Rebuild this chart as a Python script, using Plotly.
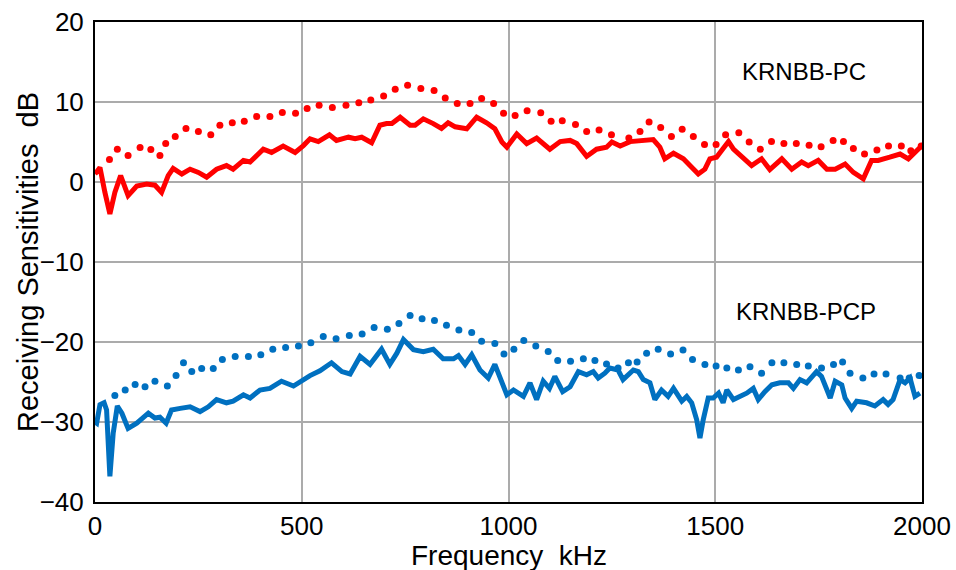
import plotly.graph_objects as go

# ---- data (frequency kHz, sensitivity dB) ----
pc_dot_f = [35,54,80,109,135,157,171,194,220,250,280,302,332,361,391,423,453,485,513,542,
            574,607,638,667,698,726,756,788,820,847,876,907,935,964,988,1016,1045,1078,1103,1130,
            1162,1189,1219,1249,1291,1318,1340,1368,1394,1420,1447,1474,1502,1525,1557,1582,1609,1636,1666,1696,
            1727,1756,1785,1810,1834,1861,1891,1919,1950,1973,1998]
pc_dot_db = [2.8,4.1,3.3,4.3,4.05,3.3,4.8,5.7,6.7,6.3,5.9,7.1,7.4,7.6,8.2,8.2,8.7,8.6,9.2,9.6,
             9.3,9.6,9.9,10.25,10.75,11.6,12.1,11.7,11.45,10.5,9.8,9.8,10.45,9.8,8.6,8.3,8.9,8.65,7.6,7.65,
             7.2,6.3,6.5,5.9,5.5,6.3,7.5,6.8,5.7,6.6,5.7,4.7,4.7,5.9,6.15,5.0,4.1,5.05,4.8,4.8,
             4.6,4.4,5.2,5.05,4.2,3.5,4.0,4.5,4.5,3.9,4.5]

pc_line_f = [0,4,12,24,36,48,62,80,101,125,145,161,177,189,210,230,250,270,294,318,334,359,375,407,427,
             455,484,504,520,540,567,584,613,629,645,669,689,705,718,738,762,774,794,818,838,854,871,899,923,
             947,967,984,996,1020,1044,1068,1100,1125,1149,1165,1189,1213,1237,1250,1270,1294,1326,1350,1366,
             1378,1399,1423,1443,1459,1475,1487,1503,1519,1532,1544,1564,1588,1612,1632,1661,1685,1709,1725,
             1749,1770,1790,1814,1834,1858,1878,1894,1922,1947,1967,1979,1999]
pc_line_db = [1.0,1.2,1.8,-1.3,-4.0,-1.3,0.8,-1.7,-0.5,-0.25,-0.4,-1.3,0.8,1.7,1.0,1.6,1.2,0.6,1.6,2.05,1.6,2.7,2.5,4.1,3.7,
              4.5,3.7,4.55,5.4,5.05,5.9,5.2,5.6,5.4,5.6,4.9,7.1,7.3,7.3,8.1,7.1,7.1,7.9,7.3,6.7,7.4,6.9,6.65,8.1,
              7.4,6.65,5.0,4.35,6.0,4.8,5.5,4.1,5.05,5.2,4.8,3.2,4.1,4.35,5.0,4.5,5.05,5.2,5.3,4.35,
              2.9,3.6,2.9,1.85,1.0,1.6,2.9,3.1,4.1,5.05,4.1,3.1,2.05,2.9,1.55,2.9,1.6,2.5,2.05,
              2.7,1.6,1.6,2.25,1.2,0.4,2.7,2.7,3.1,3.5,2.9,3.5,4.5]

pcp_dot_f = [48,73,97,121,145,175,196,214,234,258,286,308,339,371,401,430,461,492,522,552,
             583,615,646,675,707,735,762,791,821,850,880,911,935,967,989,1013,1037,1066,1096,1119,
             1150,1181,1209,1237,1265,1290,1311,1334,1362,1392,1422,1445,1475,1502,1528,1556,1584,1612,1637,1666,
             1697,1725,1757,1786,1808,1826,1857,1884,1913,1947,1969,1993]
pcp_dot_db = [-26.7,-26.0,-25.3,-25.6,-24.9,-25.5,-24.2,-22.6,-23.7,-23.3,-23.3,-22.2,-21.8,-21.8,-21.6,-20.9,-20.7,-20.5,-20.1,-19.3,
              -19.6,-19.2,-19.0,-18.2,-18.4,-17.7,-16.7,-17.1,-17.3,-17.9,-18.5,-18.8,-19.9,-20.2,-21.5,-20.9,-19.8,-20.5,-21.2,-22.3,
              -22.4,-22.1,-22.3,-22.75,-23.25,-22.6,-22.5,-21.4,-20.9,-21.5,-21.0,-22.2,-22.8,-23.0,-23.25,-23.5,-23.1,-23.9,-22.6,-22.6,
              -22.8,-23.0,-23.25,-22.8,-22.5,-23.9,-24.5,-24.0,-24.0,-24.5,-24.5,-24.2]

pcp_line_f = [0,4,12,22,28,36,44,54,65,80,101,117,129,145,157,172,185,206,230,254,274,294,318,334,359,375,399,423,451,480,
              504,520,544,572,597,617,641,665,693,713,730,746,770,794,818,842,867,879,895,911,931,951,967,979,996,1012,
              1036,1052,1068,1084,1099,1112,1131,1149,1169,1189,1205,1217,1233,1245,1265,1277,1302,1314,1326,1342,1354,
              1370,1386,1399,1419,1431,1443,1455,1463,1471,1483,1495,1508,1519,1528,1544,1560,1576,1592,1604,1620,1637,
              1656,1677,1689,1705,1721,1735,1745,1757,1770,1778,1790,1806,1814,1830,1842,1866,1886,1906,1918,1930,1947,
              1959,1971,1983,1995]
pcp_line_db = [-30.0,-30.15,-27.85,-27.6,-28.5,-36.8,-31.4,-28.0,-28.9,-30.8,-30.15,-29.5,-28.9,-29.5,-29.4,-30.15,-28.5,-28.3,-28.1,-28.7,
               -28.1,-27.2,-27.6,-27.4,-26.6,-27.0,-26.0,-25.8,-24.9,-25.5,
               -24.7,-24.2,-23.6,-22.6,-23.7,-24.0,-21.8,-22.8,-20.9,-22.8,-21.4,-19.7,-20.95,-21.2,-20.9,-22.1,-22.1,-21.7,-22.8,-21.6,
               -23.5,-24.5,-22.8,-24.3,-26.6,-26.0,
               -26.8,-25.1,-27.2,-24.9,-25.8,-24.3,-26.2,-25.6,-23.7,-24.1,-23.7,-24.5,-23.9,-23.25,-23.5,-24.7,-23.5,-23.7,-24.7,-25.1,-27.2,
               -26.0,-26.8,-25.8,-27.4,-26.8,-27.6,-29.7,-32.0,-29.7,-27.0,-27.0,-26.4,-27.6,-26.0,-27.2,-26.8,-26.4,-25.8,-27.2,-26.2,-25.35,
               -25.1,-25.1,-25.8,-24.7,-25.1,-24.3,-23.7,-24.3,-26.0,-27.0,-24.9,-25.35,-27.0,-28.3,-27.4,-27.6,-28.0,-27.2,-27.8,-27.2,-24.7,
               -25.1,-24.5,-26.8,-26.4]

x_ticks = [0, 500, 1000, 1500, 2000]
y_ticks = [20, 10, 0, -10, -20, -30, -40]

RED = "#FF0000"
BLUE = "#0070C0"
FONT = "Liberation Sans, Arial, sans-serif"

fig = go.Figure()
fig.add_trace(go.Scatter(x=pc_dot_f, y=pc_dot_db, mode="markers",
                         marker=dict(color=RED, size=7), showlegend=False))
fig.add_trace(go.Scatter(x=pc_line_f, y=pc_line_db, mode="lines",
                         line=dict(color=RED, width=5), showlegend=False))
fig.add_trace(go.Scatter(x=pcp_dot_f, y=pcp_dot_db, mode="markers",
                         marker=dict(color=BLUE, size=7), showlegend=False))
fig.add_trace(go.Scatter(x=pcp_line_f, y=pcp_line_db, mode="lines",
                         line=dict(color=BLUE, width=5), showlegend=False))

fig.update_layout(
    width=956, height=570,
    margin=dict(l=95, r=34, t=22, b=68, autoexpand=False),
    paper_bgcolor="white", plot_bgcolor="white",
    font=dict(family=FONT, size=26, color="black"),
    xaxis=dict(range=[0, 2000], tickvals=x_ticks, showgrid=True, gridcolor="#ABABAB", gridwidth=1.5,
               showline=True, linecolor="black", linewidth=2, mirror=True, zeroline=False,
               ticks="", ticklabelstandoff=0, tickfont=dict(size=26), automargin=False),
    yaxis=dict(range=[-40, 20], tickvals=y_ticks, showgrid=True, gridcolor="#ABABAB", gridwidth=1.5,
               showline=True, linecolor="black", linewidth=2, mirror=True, zeroline=False,
               ticks="", ticklabelstandoff=4, tickfont=dict(size=26), automargin=False),
    annotations=[
        dict(x=1715, y=13.8, xref="x", yref="y", text="KRNBB-PC", showarrow=False,
             font=dict(size=24, color="black"), xanchor="center", yanchor="middle"),
        dict(x=1719, y=-16.2, xref="x", yref="y", text="KRNBB-PCP", showarrow=False,
             font=dict(size=24, color="black"), xanchor="center", yanchor="middle"),
        dict(x=0.5, y=-0.112, xref="paper", yref="paper", text="Frequency  kHz", showarrow=False,
             font=dict(size=28, color="black"), xanchor="center", yanchor="middle"),
        dict(x=-0.081, y=0.5, xref="paper", yref="paper", text="Receiving Sensitivities  dB", showarrow=False,
             font=dict(size=29, color="black"), xanchor="center", yanchor="middle", textangle=-90),
    ],
)

fig.write_html("out.html")
